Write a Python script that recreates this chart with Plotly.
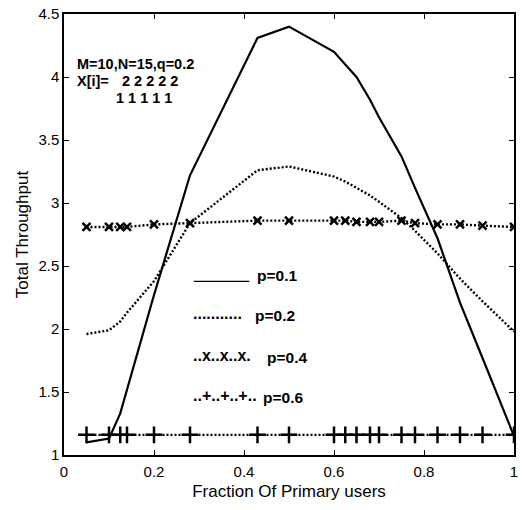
import plotly.graph_objects as go

fraction = [0.05, 0.1, 0.125, 0.14, 0.2, 0.28, 0.43, 0.5, 0.6, 0.625, 0.65, 0.68, 0.7, 0.75, 0.78, 0.83, 0.88, 0.93, 1.0]
p01 = [1.10, 1.13, 1.33, 1.52, 2.27, 3.22, 4.31, 4.40, 4.20, 4.10, 4.00, 3.82, 3.68, 3.37, 3.12, 2.72, 2.21, 1.77, 1.15]
p02 = [1.96, 1.99, 2.06, 2.13, 2.38, 2.84, 3.26, 3.29, 3.21, 3.17, 3.12, 3.06, 3.01, 2.88, 2.78, 2.60, 2.40, 2.22, 1.98]
p04 = [2.81, 2.81, 2.81, 2.81, 2.83, 2.84, 2.86, 2.86, 2.86, 2.86, 2.85, 2.85, 2.85, 2.86, 2.84, 2.83, 2.83, 2.82, 2.81]
p06 = [1.16] * 19

xticks = [0, 0.2, 0.4, 0.6, 0.8, 1]
xticklabels = ["0", "0.2", "0.4", "0.6", "0.8", "1"]
yticks = [1, 1.5, 2, 2.5, 3, 3.5, 4, 4.5]
yticklabels = ["1", "1.5", "2", "2.5", "3", "3.5", "4", "4.5"]

FONT = "Arial, Liberation Sans, sans-serif"

fig = go.Figure()
fig.add_trace(go.Scatter(x=fraction, y=p01, mode="lines", line=dict(color="black", width=2.2)))
fig.add_trace(go.Scatter(x=fraction, y=p02, mode="lines", line=dict(color="black", width=2.4, dash="2px,2px")))
fig.add_trace(go.Scatter(x=fraction, y=p04, mode="lines+markers",
                         line=dict(color="black", width=2.4, dash="2px,2px"),
                         marker=dict(symbol="x-thin", size=8, line=dict(color="black", width=2.5))))
fig.add_trace(go.Scatter(x=fraction, y=p06, mode="lines+markers",
                         line=dict(color="black", width=2.4, dash="2px,2px"),
                         marker=dict(symbol="cross-thin", size=12, line=dict(color="black", width=2.5))))

ann = []
def t(x, y, s, anchor="left", size=14.5):
    ann.append(dict(x=x, y=y, xref="paper", yref="paper", text=s, showarrow=False,
                    xanchor=anchor, yanchor="middle",
                    font=dict(family=FONT, size=size, color="black")))

# paper coordinates: plot area x 64..518, y 13..455
def px(xp): return (xp - 64) / 454.0
def py(yp): return (455 - yp) / 442.0

t(px(75), py(63), "<b>M=10,N=15,q=0.2</b>")
t(px(75), py(80), "<b>X[i]=</b>")
t(px(120), py(80), "<b>2 2 2 2 2</b>")
t(px(114), py(97), "<b>1 1 1 1 1</b>")

t(px(257), py(275), "<b>p=0.1</b>", size=15.5)
t(px(255), py(315), "<b>p=0.2</b>", size=15.5)
t(px(192), py(355), "<b>..x..x..x.</b>", size=16)
t(px(267), py(357), "<b>p=0.4</b>", size=15.5)
t(px(192), py(395), "<b>..+..+..+..</b>", size=16)
t(px(263), py(397), "<b>p=0.6</b>", size=15.5)
t(px(192), py(313), "<b>...........</b>", size=16)

fig.add_shape(type="line", xref="paper", yref="paper", x0=px(195), x1=px(251), y0=py(281), y1=py(281),
              line=dict(color="black", width=1.2))

fig.update_layout(
    width=523, height=510,
    margin=dict(l=64, r=5, t=13, b=55),
    paper_bgcolor="white", plot_bgcolor="white",
    showlegend=False,
    font=dict(family=FONT, size=15, color="black"),
    annotations=ann,
)
fig.update_xaxes(range=[0, 1], tickvals=xticks, ticktext=xticklabels, ticks="inside", ticklen=5,
                 tickwidth=1, tickcolor="black", showline=True, linecolor="black", linewidth=1.5,
                 mirror="ticks", showgrid=False, zeroline=False, ticklabelstandoff=2,
                 title=dict(text="Fraction Of Primary users", font=dict(size=17), standoff=6),
                 tickfont=dict(size=15))
fig.update_yaxes(range=[1, 4.5], tickvals=yticks, ticktext=yticklabels, ticks="inside", ticklen=5,
                 tickwidth=1, tickcolor="black", showline=True, linecolor="black", linewidth=1.5,
                 mirror="ticks", showgrid=False, zeroline=False,
                 title=dict(text="Total Throughput", font=dict(size=17), standoff=5),
                 tickfont=dict(size=15))

fig.write_html("out.html")
